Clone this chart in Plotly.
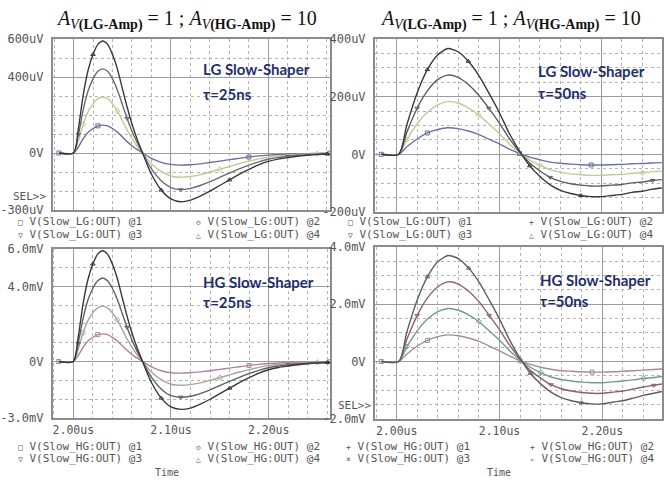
import plotly.graph_objects as go

# ---------------- data ----------------
T25 = [1.985, 2.000, 2.005, 2.010, 2.015, 2.020, 2.025, 2.030, 2.035, 2.040,
       2.045, 2.050, 2.055, 2.060, 2.065, 2.070, 2.075, 2.080, 2.090, 2.100,
       2.110, 2.120, 2.130, 2.140, 2.150, 2.160, 2.170, 2.180, 2.190, 2.200,
       2.210, 2.220, 2.230, 2.240, 2.250, 2.260, 2.263]
T50 = [1.985, 2.002, 2.010, 2.020, 2.030, 2.040, 2.050, 2.060, 2.070, 2.080,
       2.090, 2.100, 2.110, 2.120, 2.130, 2.140, 2.150, 2.160, 2.170, 2.180,
       2.190, 2.200, 2.210, 2.220, 2.230, 2.240, 2.250, 2.259]

# LG slow shaper, tau = 25 ns (uV)
LG25_1 = [0, 0, 32, 76, 109, 129, 143, 147, 143, 129, 110, 85, 60, 38, 19, 3, -13, -28, -49, -60,
          -64, -62, -57, -50, -43, -35, -28, -21, -15, -11, -8, -6, -4, -3, -2, -1, -1]
LG25_2 = [0, 0, 65, 153, 218, 260, 286, 295, 286, 260, 221, 171, 121, 77, 38, 6, -27, -56, -97, -121,
          -128, -124, -114, -100, -86, -71, -56, -43, -31, -22, -16, -12, -8, -6, -4, -3, -2]
LG25_3 = [0, 0, 97, 230, 328, 390, 430, 443, 430, 390, 332, 257, 182, 115, 58, 9, -40, -84, -146, -182,
          -193, -186, -171, -151, -128, -106, -84, -64, -47, -33, -24, -18, -12, -9, -6, -4, -4]
LG25_4 = [0, 0, 130, 307, 437, 519, 572, 590, 572, 519, 443, 342, 242, 153, 77, 12, -53, -112, -195, -242,
          -257, -248, -227, -201, -171, -142, -112, -86, -62, -44, -32, -24, -17, -12, -8, -5, -5]

# HG slow shaper, tau = 25 ns (mV)
HG25_1 = [0, 0, 0.32, 0.76, 1.09, 1.29, 1.43, 1.47, 1.43, 1.29, 1.10, 0.85, 0.60, 0.38, 0.19, 0.03, -0.13, -0.28, -0.49, -0.60,
          -0.62, -0.60, -0.55, -0.49, -0.42, -0.35, -0.28, -0.21, -0.15, -0.11, -0.08, -0.06, -0.04, -0.03, -0.02, -0.01, -0.01]
HG25_2 = [0, 0, 0.65, 1.53, 2.18, 2.60, 2.86, 2.95, 2.86, 2.60, 2.21, 1.71, 1.21, 0.77, 0.38, 0.06, -0.27, -0.56, -0.97, -1.21,
          -1.26, -1.23, -1.14, -1.00, -0.86, -0.71, -0.56, -0.43, -0.31, -0.22, -0.16, -0.12, -0.08, -0.06, -0.04, -0.03, -0.02]
HG25_3 = [0, 0, 0.97, 2.30, 3.28, 3.90, 4.30, 4.45, 4.30, 3.90, 3.32, 2.57, 1.82, 1.15, 0.58, 0.09, -0.40, -0.84, -1.46, -1.82,
          -1.90, -1.85, -1.71, -1.51, -1.28, -1.06, -0.84, -0.64, -0.47, -0.33, -0.24, -0.18, -0.12, -0.09, -0.06, -0.04, -0.04]
HG25_4 = [0, 0, 1.30, 3.07, 4.37, 5.19, 5.72, 5.90, 5.72, 5.19, 4.43, 3.42, 2.42, 1.53, 0.77, 0.12, -0.53, -1.12, -1.95, -2.42,
          -2.55, -2.48, -2.27, -2.01, -1.71, -1.42, -1.12, -0.86, -0.62, -0.44, -0.32, -0.24, -0.17, -0.12, -0.08, -0.05, -0.05]

# LG slow shaper, tau = 50 ns (uV)
LG50_1 = [0, 0, 26, 53, 74, 86, 92, 89, 81, 69, 53, 37, 18, 3, -10, -19, -27, -31, -34, -36,
          -37, -37, -36, -35, -33, -32, -30, -29]
LG50_2 = [0, 0, 51, 106, 146, 172, 183, 178, 161, 137, 106, 73, 37, 5, -20, -38, -53, -62, -68, -71,
          -73, -73, -71, -70, -66, -64, -60, -59]
LG50_3 = [0, 0, 77, 160, 220, 259, 275, 267, 242, 206, 160, 110, 55, 8, -30, -58, -80, -94, -102, -107,
          -110, -110, -107, -105, -99, -96, -91, -88]
LG50_4 = [0, 0, 103, 213, 294, 345, 367, 356, 323, 275, 213, 147, 73, 11, -40, -77, -106, -125, -136, -143,
          -147, -147, -143, -139, -132, -128, -121, -117]

# HG slow shaper, tau = 50 ns (mV)
HG50_1 = [0, 0, 0.26, 0.54, 0.74, 0.87, 0.93, 0.90, 0.82, 0.70, 0.54, 0.37, 0.19, 0.03, -0.10, -0.20, -0.27, -0.32, -0.34, -0.36,
          -0.37, -0.37, -0.36, -0.34, -0.32, -0.30, -0.28, -0.26]
HG50_2 = [0, 0, 0.52, 1.07, 1.48, 1.74, 1.85, 1.79, 1.63, 1.39, 1.07, 0.74, 0.37, 0.06, -0.20, -0.39, -0.54, -0.63, -0.68, -0.72,
          -0.74, -0.74, -0.71, -0.68, -0.64, -0.59, -0.56, -0.52]
HG50_3 = [0, 0, 0.78, 1.61, 2.22, 2.61, 2.78, 2.70, 2.45, 2.09, 1.61, 1.11, 0.56, 0.08, -0.31, -0.58, -0.81, -0.95, -1.03, -1.08,
          -1.11, -1.11, -1.07, -1.03, -0.96, -0.89, -0.83, -0.78]
HG50_4 = [0, 0, 1.04, 2.15, 2.96, 3.48, 3.70, 3.59, 3.26, 2.78, 2.15, 1.48, 0.74, 0.11, -0.41, -0.78, -1.07, -1.26, -1.37, -1.44,
          -1.48, -1.48, -1.42, -1.37, -1.28, -1.18, -1.11, -1.04]

X_TICKS = [2.0, 2.1, 2.2]
X_TICKTEXT = ["2.00us", "2.10us", "2.20us"]

LG25_YTICKS = [-300, 0, 400, 600]
LG25_YTEXT = ["-300uV", "0V", "400uV", "600uV"]
LG50_YTICKS = [-200, 0, 200, 400]
LG50_YTEXT = ["-200uV", "0V", "200uV", "400uV"]
HG25_YTICKS = [-3, 0, 4, 6]
HG25_YTEXT = ["-3.0mV", "0V", "4.0mV", "6.0mV"]
HG50_YTICKS = [-2, 0, 2, 4]
HG50_YTEXT = ["-2.0mV", "0V", "2.0mV", "4.0mV"]

# ---------------- layout helpers ----------------
W, H = 664, 487
def fx(p):
    return p / W
def fy(p):
    return 1 - p / H

MONO = "DejaVu Sans Mono"
XMINOR = [round(1.98 + 0.02 * i, 2) for i in range(15) if round(1.98 + 0.02 * i, 2) not in (2.0, 2.1, 2.2)]

panels = [
    dict(s="", t=T25, ys=[LG25_1, LG25_2, LG25_3, LG25_4],
         colors=["#76689f", "#bccb94", "#6e6872", "#383838"],
         xr=[1.9786, 2.2633], yr=[-300, 600], dx=(51, 330), dy=(33, 209),
         yt=LG25_YTICKS, ytt=LG25_YTEXT, ym=[-200, -100, 100, 200, 300, 500], bottom=False,
         marks=[[0, 6, 27, 36], [3, 10, 24, 34], [2, 12, 20, 31], [5, 18, 25, 35]]),
    dict(s="2", t=T50, ys=[LG50_1, LG50_2, LG50_3, LG50_4],
         colors=["#6a72a6", "#bccf98", "#5e5e5e", "#383838"],
         xr=[1.9786, 2.2592], yr=[-200, 400], dx=(375, 664), dy=(33, 211),
         yt=LG50_YTICKS, ytt=LG50_YTEXT, ym=[-150, -100, -50, 50, 100, 150, 250, 300, 350], bottom=False,
         marks=[[0, 4, 13, 20], [2, 9, 15, 25], [3, 10, 16, 26], [4, 8, 14, 19]]),
    dict(s="3", t=T25, ys=[HG25_1, HG25_2, HG25_3, HG25_4],
         colors=["#b0839c", "#aaa496", "#606060", "#383838"],
         xr=[1.9789, 2.2628], yr=[-3, 6], dx=(51, 330), dy=(249, 423),
         yt=HG25_YTICKS, ytt=HG25_YTEXT, ym=[-2, -1, 1, 2, 3, 5], bottom=True,
         marks=[[0, 6, 27, 36], [3, 10, 24, 34], [2, 12, 20, 31], [5, 18, 25, 35]]),
    dict(s="4", t=T50, ys=[HG50_1, HG50_2, HG50_3, HG50_4],
         colors=["#a58c94", "#6f9c8a", "#8f6068", "#5e5e5e"],
         xr=[1.9787, 2.2580], yr=[-2, 4], dx=(375, 664), dy=(247, 424),
         yt=HG50_YTICKS, ytt=HG50_YTEXT, ym=[-1.5, -1, -0.5, 0.5, 1, 1.5, 2.5, 3, 3.5], bottom=True,
         marks=[[0, 4, 13, 20], [2, 9, 15, 25], [3, 10, 16, 26], [4, 8, 14, 19]]),
]

SYMS = ["square-open", "diamond-open", "triangle-down-open", "triangle-up-open"]

fig = go.Figure()
layout = {}
for p in panels:
    s = p["s"]
    xa, ya = "x" + s, "y" + s
    for k, (vals, col) in enumerate(zip(p["ys"], p["colors"])):
        fig.add_trace(go.Scatter(x=p["t"], y=vals, mode="lines", xaxis=xa, yaxis=ya,
                                 line=dict(color=col, width=1.4, shape="spline", smoothing=0.7),
                                 hoverinfo="skip", showlegend=False))
        idx = p["marks"][k]
        fig.add_trace(go.Scatter(x=[p["t"][i] for i in idx], y=[vals[i] for i in idx], mode="markers",
                                 xaxis=xa, yaxis=ya,
                                 marker=dict(symbol=SYMS[k], size=4, color=col, line=dict(width=1, color=col)),
                                 hoverinfo="skip", showlegend=False))
    common = dict(showline=True, linecolor="#8c8c8c", linewidth=1.5, mirror=True, zeroline=False,
                  showgrid=True, gridcolor="#9c9c9c", gridwidth=1.4, ticks="",
                  tickfont=dict(family=MONO, size=12, color="#555555"))
    layout["xaxis" + s] = dict(common, domain=[fx(p["dx"][0]), fx(p["dx"][1])], range=p["xr"],
                               anchor=ya, tickmode="array", tickvals=X_TICKS, ticktext=X_TICKTEXT,
                               showticklabels=p["bottom"], ticklabelstandoff=1,
                               minor=dict(tickmode="array", tickvals=XMINOR, showgrid=True,
                                          gridcolor="#b4b4b4", griddash="dot", gridwidth=1))
    layout["xaxis" + s]["tickfont"] = dict(family=MONO, size=11.5, color="#555555")
    layout["yaxis" + s] = dict(common, domain=[fy(p["dy"][1]), fy(p["dy"][0])], range=p["yr"],
                               anchor=xa, tickmode="array", tickvals=p["yt"], ticktext=p["ytt"],
                               ticklabelstandoff=5,
                               minor=dict(tickmode="array", tickvals=p["ym"], showgrid=True,
                                          gridcolor="#b4b4b4", griddash="dot", gridwidth=1))

ann = []
TITLE = ("<i>A</i><sub><i>V</i><b>(LG-Amp)</b></sub> = 1 ; "
         "<i>A</i><sub><i>V</i><b>(HG-Amp)</b></sub> = 10")
for cx in (186, 512):
    ann.append(dict(text=TITLE, x=fx(cx), y=fy(13), xref="paper", yref="paper", showarrow=False,
                    xanchor="center", yanchor="middle",
                    font=dict(family="Liberation Serif", size=20, color="#111111")))

NAVY = "#1f2f6d"
for txt, x, y in [("LG Slow-Shaper", 200, 64), ("τ=25ns", 200, 90),
                  ("LG Slow-Shaper", 537, 66), ("τ=50ns", 537, 89),
                  ("HG Slow-Shaper", 200, 283), ("τ=25ns", 200, 304),
                  ("HG Slow-Shaper", 539, 281), ("τ=50ns", 539, 303)]:
    ann.append(dict(text=txt, x=fx(x), y=fy(y), xref="paper", yref="paper", showarrow=False,
                    xanchor="left", yanchor="middle",
                    font=dict(family="Lato", size=15, color=NAVY, weight="bold")))

def sym(c):
    return "<span style='font-size:8px'>%s</span> " % c

legend_rows = [
    # (symbol, text, x, y)
    ("□", "V(Slow_LG:OUT) @1", 14, 221), ("◇", "V(Slow_LG:OUT) @2", 193, 221),
    ("▽", "V(Slow_LG:OUT) @3", 14, 234), ("△", "V(Slow_LG:OUT) @4", 193, 234),
    ("□", "V(Slow_LG:OUT) @1", 346, 221), ("+", "V(Slow_LG:OUT) @2", 528, 221),
    ("▽", "V(Slow_LG:OUT) @3", 346, 234), ("△", "V(Slow_LG:OUT) @4", 528, 234),
    ("□", "V(Slow_HG:OUT) @1", 14, 452), ("◇", "V(Slow_HG:OUT) @2", 193, 452),
    ("▽", "V(Slow_HG:OUT) @3", 14, 465), ("△", "V(Slow_HG:OUT) @4", 193, 465),
    ("+", "V(Slow_HG:OUT) @1", 344, 452), ("+", "V(Slow_HG:OUT) @2", 529, 452),
    ("×", "V(Slow_HG:OUT) @3", 344, 465), ("▹", "V(Slow_HG:OUT) @4", 529, 465),
]
for sy, txt, x, y in legend_rows:
    ann.append(dict(text=sym(sy) + txt, x=fx(x), y=fy(y), xref="paper", yref="paper", showarrow=False,
                    xanchor="left", yanchor="middle",
                    font=dict(family=MONO, size=11, color="#555555")))

for x in (166, 500):
    ann.append(dict(text="Time", x=fx(x), y=fy(479), xref="paper", yref="paper", showarrow=False,
                    xanchor="center", yanchor="middle", font=dict(family=MONO, size=10, color="#555555")))

for x, y in [(46, 195), (373, 410)]:
    ann.append(dict(text="SEL>>", x=fx(x), y=fy(y), xref="paper", yref="paper", showarrow=False,
                    xanchor="right", yanchor="middle", font=dict(family=MONO, size=11, color="#555555")))

fig.update_layout(width=W, height=H, margin=dict(l=0, r=0, t=0, b=0),
                  paper_bgcolor="white", plot_bgcolor="white", annotations=ann, **layout)

fig.write_html("out.html")
